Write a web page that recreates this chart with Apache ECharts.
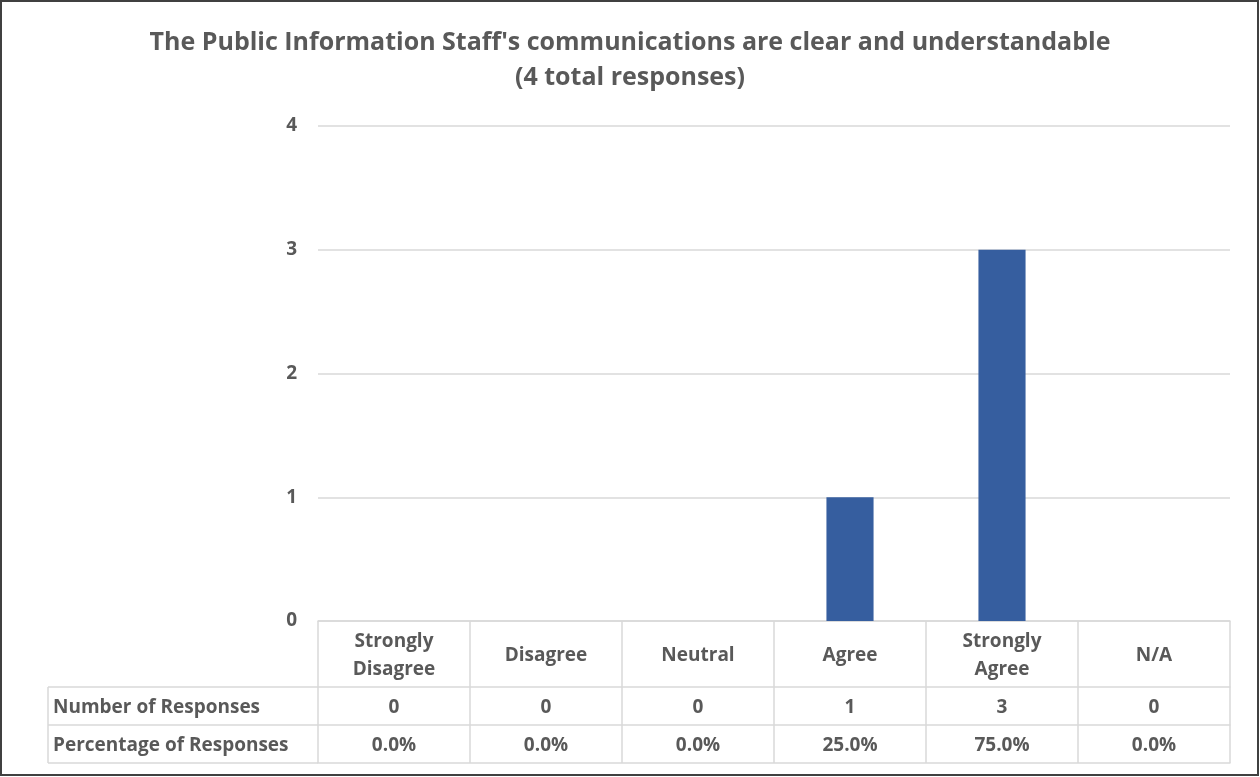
<!DOCTYPE html>
<html>
<head>
<meta charset="utf-8">
<script src="https://cdn.jsdelivr.net/npm/echarts@6/dist/echarts.min.js"></script>
<style>
  html, body { margin: 0; padding: 0; background: #fff; }
  #chart { width: 1260px; height: 777px; }
</style>
</head>
<body>
<div id="chart"></div>
<script>
// Survey answers and counts
const categories = ['Strongly\nDisagree', 'Disagree', 'Neutral', 'Agree', 'Strongly\nAgree', 'N/A'];
const responses = [0, 0, 0, 1, 3, 0];
const rowHeaders = ['Number of Responses', 'Percentage of Responses'];
const yTicks = [0, 1, 2, 3, 4];
const titleLines = [
  "The Public Information Staff's communications are clear and understandable",
  '(4 total responses)'
];

const total = responses.reduce((a, b) => a + b, 0);
const percentages = responses.map(v => (v / total * 100).toFixed(1) + '%');

// Layout
const W = 1260, H = 777;
const gridLeft = 318, gridRight = 30, gridTop = 126, gridBottom = 156;
const axisY = H - gridBottom;          // baseline of plot / top of data table
const headerRowH = 66, rowH = 38;
const tableLeft = 48;
const textNudge = 2;                   // optical centring of text inside cells
const lineColor = '#d9d9d9';
const textColor = '#595959';
const fontFamily = '"Open Sans", "DejaVu Sans", sans-serif';
const fontSize = 19;

const baseLabel = { color: textColor, fontWeight: 'bold', fontFamily: fontFamily, fontSize: fontSize };

const chart = echarts.init(document.getElementById('chart'), null, { renderer: 'canvas' });

// one x axis per table row; its line draws the row's top border
const rowAxis = (offset, values, withLabel) => ({
  type: 'category',
  data: categories,
  position: 'bottom',
  offset: offset,
  axisLine: { show: true, lineStyle: { color: lineColor, width: 1.5 } },
  axisTick: { show: false },
  axisLabel: withLabel ? Object.assign({}, baseLabel, {
    margin: rowH / 2 + textNudge,
    verticalAlign: 'middle',
    interval: 0,
    formatter: (v, i) => String(values[i])
  }) : { show: false },
  splitLine: { show: false }
});

// row-header column on the left of the table
const headerGraphics = [];
for (let r = 0; r <= rowHeaders.length; r++) {
  const y = axisY + headerRowH + r * rowH;
  headerGraphics.push({
    type: 'line',
    shape: { x1: tableLeft, y1: y, x2: gridLeft, y2: y },
    style: { stroke: lineColor, lineWidth: 1.5 }
  });
}
headerGraphics.push({
  type: 'line',
  shape: { x1: tableLeft, y1: axisY + headerRowH, x2: tableLeft, y2: axisY + headerRowH + rowHeaders.length * rowH },
  style: { stroke: lineColor, lineWidth: 1.5 }
});
rowHeaders.forEach((t, r) => {
  headerGraphics.push({
    type: 'text',
    x: tableLeft + 5,
    y: axisY + headerRowH + r * rowH + rowH / 2 + textNudge,
    style: {
      text: t, fill: textColor, font: 'bold ' + fontSize + 'px ' + fontFamily,
      textAlign: 'left', textVerticalAlign: 'middle'
    }
  });
});

const option = {
  backgroundColor: '#ffffff',
  animation: false,
  title: {
    text: titleLines.join('\n'),
    left: 'center',
    top: 20,
    textStyle: {
      color: textColor, fontFamily: fontFamily, fontWeight: 'bold',
      fontSize: 25, lineHeight: 35
    }
  },
  grid: { left: gridLeft, right: gridRight, top: gridTop, bottom: gridBottom, containLabel: false },
  xAxis: [
    {
      type: 'category',
      data: categories,
      position: 'bottom',
      axisLine: { show: true, lineStyle: { color: lineColor, width: 1.5 } },
      axisTick: {
        show: true, alignWithLabel: false,
        length: headerRowH + rowHeaders.length * rowH,
        lineStyle: { color: lineColor, width: 1.5 }
      },
      axisLabel: Object.assign({}, baseLabel, {
        interval: 0, margin: headerRowH / 2 + textNudge, verticalAlign: 'middle', lineHeight: 28
      }),
      splitLine: { show: false }
    },
    rowAxis(headerRowH, responses, true),
    rowAxis(headerRowH + rowH, percentages, true),
    rowAxis(headerRowH + 2 * rowH, [], false)
  ],
  yAxis: {
    type: 'value',
    min: yTicks[0],
    max: yTicks[yTicks.length - 1],
    interval: 1,
    axisLine: { show: false },
    axisTick: { show: false },
    axisLabel: Object.assign({}, baseLabel, { margin: 21 }),
    splitLine: { lineStyle: { color: lineColor, width: 1.5 } }
  },
  series: [{
    type: 'bar',
    data: responses,
    barWidth: '31%',
    itemStyle: { color: '#365e9f' }
  }],
  graphic: headerGraphics.concat([{
    type: 'rect',
    shape: { x: 1, y: 1, width: W - 3, height: H - 3 },
    style: { fill: 'none', stroke: '#404040', lineWidth: 2 },
    silent: true
  }])
};

chart.setOption(option);
</script>
</body>
</html>
